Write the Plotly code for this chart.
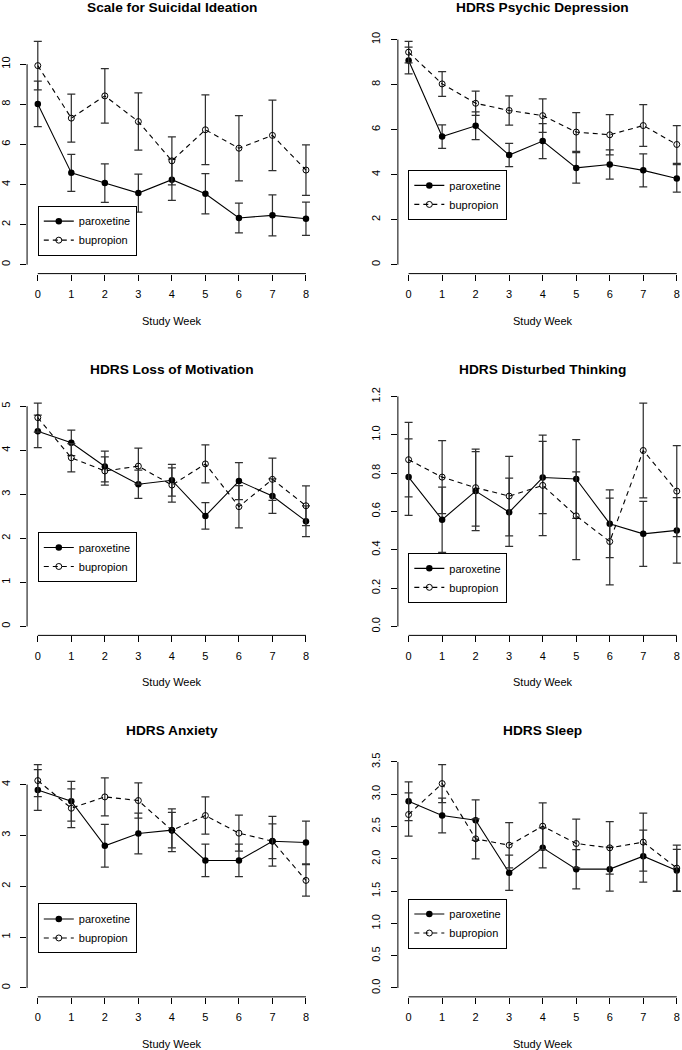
import plotly.graph_objects as go

# ---------------------------------------------------------------------------
# Data: mean score and standard error by study week, per treatment arm
# ---------------------------------------------------------------------------

weeks = [0, 1, 2, 3, 4, 5, 6, 7, 8]

titles = [
    "Scale for Suicidal Ideation",
    "HDRS Psychic Depression",
    "HDRS Loss of Motivation",
    "HDRS Disturbed Thinking",
    "HDRS Anxiety",
    "HDRS Sleep",
]

ssi_par = [8.02, 4.58, 4.07, 3.57, 4.24, 3.54, 2.33, 2.46, 2.29]
ssi_par_se = [1.13, 0.92, 0.96, 0.95, 1.03, 1.00, 0.74, 1.02, 0.83]
ssi_bup = [9.93, 7.31, 8.42, 7.14, 5.18, 6.73, 5.81, 6.45, 4.72]
ssi_bup_se = [1.21, 1.20, 1.36, 1.43, 1.20, 1.74, 1.63, 1.76, 1.26]

psy_par = [9.07, 5.69, 6.17, 4.87, 5.49, 4.30, 4.45, 4.19, 3.83]
psy_par_se = [0.59, 0.52, 0.62, 0.52, 0.78, 0.68, 0.65, 0.73, 0.61]
psy_bup = [9.44, 8.03, 7.17, 6.85, 6.62, 5.89, 5.77, 6.18, 5.34]
psy_bup_se = [0.48, 0.55, 0.54, 0.65, 0.74, 0.86, 0.89, 0.93, 0.84]

mot_par = [4.43, 4.17, 3.63, 3.23, 3.32, 2.51, 3.30, 2.96, 2.39]
mot_par_se = [0.37, 0.29, 0.35, 0.32, 0.36, 0.30, 0.42, 0.39, 0.35]
mot_bup = [4.74, 3.83, 3.53, 3.64, 3.21, 3.69, 2.72, 3.34, 2.74]
mot_bup_se = [0.33, 0.32, 0.32, 0.41, 0.39, 0.43, 0.48, 0.48, 0.45]

thk_par = [0.779, 0.557, 0.706, 0.596, 0.777, 0.769, 0.536, 0.483, 0.501]
thk_par_se = [0.200, 0.170, 0.206, 0.178, 0.188, 0.205, 0.177, 0.170, 0.171]
thk_bup = [0.870, 0.779, 0.724, 0.680, 0.736, 0.577, 0.443, 0.918, 0.706]
thk_bup_se = [0.194, 0.190, 0.201, 0.207, 0.262, 0.229, 0.226, 0.247, 0.238]

anx_par = [3.895, 3.673, 2.795, 3.038, 3.103, 2.507, 2.507, 2.885, 2.861]
anx_par_se = [0.40, 0.39, 0.42, 0.40, 0.35, 0.32, 0.32, 0.34, 0.42]
anx_bup = [4.079, 3.535, 3.758, 3.686, 3.100, 3.391, 3.044, 2.887, 2.115]
anx_bup_se = [0.314, 0.38, 0.373, 0.347, 0.42, 0.367, 0.354, 0.49, 0.31]

slp_par = [2.892, 2.670, 2.598, 1.784, 2.170, 1.840, 1.840, 2.041, 1.820]
slp_par_se = [0.300, 0.268, 0.314, 0.274, 0.309, 0.304, 0.340, 0.402, 0.325]
slp_bup = [2.686, 3.165, 2.309, 2.211, 2.505, 2.237, 2.170, 2.258, 1.856]
slp_bup_se = [0.335, 0.294, 0.309, 0.351, 0.361, 0.376, 0.407, 0.448, 0.355]

# y tick values for each panel
ssi_ticks = [0, 2, 4, 6, 8, 10]
psy_ticks = [0, 2, 4, 6, 8, 10]
mot_ticks = [0, 1, 2, 3, 4, 5]
thk_ticks = [0.0, 0.2, 0.4, 0.6, 0.8, 1.0, 1.2]
anx_ticks = [0, 1, 2, 3, 4]
slp_ticks = [0.0, 0.5, 1.0, 1.5, 2.0, 2.5, 3.0, 3.5]

panels = [
    (ssi_par, ssi_par_se, ssi_bup, ssi_bup_se, ssi_ticks, "d"),
    (psy_par, psy_par_se, psy_bup, psy_bup_se, psy_ticks, "d"),
    (mot_par, mot_par_se, mot_bup, mot_bup_se, mot_ticks, "d"),
    (thk_par, thk_par_se, thk_bup, thk_bup_se, thk_ticks, ".1f"),
    (anx_par, anx_par_se, anx_bup, anx_bup_se, anx_ticks, "d"),
    (slp_par, slp_par_se, slp_bup, slp_bup_se, slp_ticks, ".1f"),
]

# ---------------------------------------------------------------------------
# Page geometry (pixels)
# ---------------------------------------------------------------------------

W, H = 682, 1050
FONT = "Liberation Sans, Arial, Helvetica, sans-serif"
PX_PER_WEEK = 33.72
COL_LEFT = [23.2, 396.2]          # left edge of plot region
ROW_TOP = [25.6, 389.8, 753.7]    # top edge of plot region
REGION_H = 242.8
LEGEND_POS = [(34, 200), (406.7, 164), (34, 528.5),
              (406.7, 549.5), (34, 902.5), (406.7, 897.5)]

ERR = dict(type="data", symmetric=True, width=4, thickness=1.25, color="#303030")

fig = go.Figure()
shapes, annotations, layout = [], [], {}

for i, (par, par_se, bup, bup_se, yticks, fmt) in enumerate(panels):
    row, col = divmod(i, 2)
    n = i + 1
    sfx = "" if n == 1 else str(n)
    xa, ya, leg = "x" + sfx, "y" + sfx, "legend" + sfx

    # R-style ranges: ylim = c(0, max upper bar), 4% padding on both axes
    ymax = max(max(m + s for m, s in zip(par, par_se)),
               max(m + s for m, s in zip(bup, bup_se)))
    yrange = [-0.04 * ymax, 1.04 * ymax]

    left = COL_LEFT[col]
    right = min(W, left + 8.64 * PX_PER_WEEK)
    xrange = [-0.32, -0.32 + (right - left) / PX_PER_WEEK]
    top = ROW_TOP[row]

    fig.add_trace(go.Scatter(
        x=weeks, y=par, error_y=dict(array=par_se, **ERR),
        mode="lines+markers", name="paroxetine",
        line=dict(color="black", width=1.1),
        marker=dict(symbol="circle", size=6.5, color="black"),
        xaxis=xa, yaxis=ya, legend=leg,
    ))
    fig.add_trace(go.Scatter(
        x=weeks, y=bup, error_y=dict(array=bup_se, **ERR),
        mode="lines+markers", name="bupropion",
        line=dict(color="black", width=1.1, dash="5px,4px"),
        marker=dict(symbol="circle-open", size=6, color="black",
                    line=dict(width=1)),
        xaxis=xa, yaxis=ya, legend=leg,
    ))

    layout["xaxis" + sfx] = dict(
        domain=[left / W, right / W], range=xrange, anchor=ya,
        tickvals=weeks, ticks="outside", ticklen=6, tickcolor="black",
        showgrid=False, zeroline=False, showline=False,
        tickfont=dict(size=11, color="black"), ticklabelstandoff=4,
    )
    layout["yaxis" + sfx] = dict(
        domain=[1 - (top + REGION_H) / H, 1 - top / H], range=yrange,
        anchor=xa, tickvals=yticks, tickformat=fmt, tickangle=-90,
        ticks="outside", ticklen=6, tickcolor="black",
        showgrid=False, zeroline=False, showline=False,
        tickfont=dict(size=11, color="black"), ticklabelstandoff=6,
    )

    lx, ly = LEGEND_POS[i]
    layout[leg] = dict(
        x=lx / W, y=1 - ly / H, xanchor="left", yanchor="top",
        bordercolor="black", borderwidth=1, bgcolor="white",
        font=dict(size=11, color="black"), itemwidth=30,
        tracegroupgap=0,
    )

    # axis lines span only the first to last tick, as in base R
    shapes.append(dict(type="line", xref=xa, yref=ya + " domain",
                       x0=weeks[0], x1=weeks[-1], y0=0, y1=0,
                       line=dict(color="black", width=1)))
    shapes.append(dict(type="line", xref=xa + " domain", yref=ya,
                       x0=0, x1=0, y0=yticks[0], y1=yticks[-1],
                       line=dict(color="black", width=1)))

    annotations.append(dict(
        text="<b>" + titles[i] + "</b>", xref=xa, yref=ya + " domain",
        x=4, y=1, yshift=25, showarrow=False, yanchor="middle",
        font=dict(size=13.7, color="black"),
    ))
    annotations.append(dict(
        text="Study Week", xref=xa, yref=ya + " domain",
        x=4, y=0, yshift=-47, showarrow=False, yanchor="middle",
        font=dict(size=11, color="black"),
    ))

fig.update_layout(
    width=W, height=H,
    margin=dict(l=0, r=0, t=0, b=0),
    paper_bgcolor="white", plot_bgcolor="white",
    font=dict(family=FONT, color="black"),
    showlegend=True,
    shapes=shapes, annotations=annotations,
    **layout,
)

# pin the figure to the page's top-left corner (no body margin)
fig.write_html(
    "out.html",
    config={"displayModeBar": False},
    post_script="document.body.style.margin='0';"
                "document.body.style.overflow='hidden';"
                "var g=document.getElementById('{plot_id}');"
                "g.style.position='absolute';g.style.top='0';g.style.left='0';",
)
